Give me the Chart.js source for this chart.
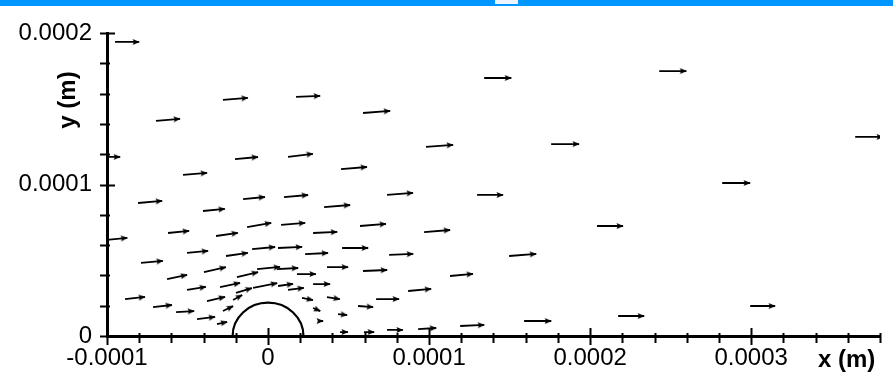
<!DOCTYPE html>
<html>
<head>
<meta charset="utf-8">
<script src="https://cdn.jsdelivr.net/npm/chart.js@4.4.1/dist/chart.umd.min.js"></script>
<style>
  body { margin: 0; background: #fff; }
  #wrap { position: relative; width: 893px; height: 376px; }
  #bar { position: absolute; left: 0; top: 0; width: 893px; height: 6px; background: #0096ff; }
  #tab { position: absolute; left: 495px; top: 0; width: 23px; height: 4px; background: #eef4ff; }
</style>
</head>
<body>
<div id="wrap">
  <canvas id="chart" width="893" height="376"></canvas>
  <div id="bar"></div><div id="tab"></div>
</div>
<script>
// vector anchor points, micrometres
const xPos = [
  -95.0, -69.6, -28.0, 17.4, 59.0, -106.8, -52.8, -20.5, 12.4, 45.3,
  134.2, 242.9, 98.1, 175.8, 364.6, 282.0, 73.9, 129.8, 96.9, 204.3,
  75.2, 149.7, 113.0, 87.0, 67.1, 73.9, 93.2, 119.3, 159.0, 217.4,
  299.4, -80.7, -40.4, -15.5, 9.9, 34.8, -62.1, -32.3, -13.0, 8.1,
  28.0, -101.0, -50.3, -26.1, -9.9, 6.2, 23.0, -78.9, -39.8, -19.3,
  -6.8, 5.6, 18.0, 36.6, -62.7, -29.8, -19.9, -9.3, 6.2, 12.4,
  28.0, -50.3, -88.8, -71.4, -37.9, -28.0, -21.7, -57.1, -44.1, -31.7,
  21.1, 28.0, 36.6, 32.3, 43.5, 44.7, 55.9, 59.6, 57.1, 46.0, 59.0
];
const yPos = [
  194.1, 142.0, 155.8, 157.8, 147.2, 118.2, 106.3, 116.8, 118.2, 110.2,
  170.3, 174.9, 124.8, 126.7, 131.4, 101.0, 93.1, 93.1, 68.6, 72.6,
  53.5, 52.8, 39.6, 29.7, 24.4, 4.0, 4.6, 6.6, 9.9, 13.2,
  19.8, 87.8, 82.5, 90.4, 91.7, 85.1, 68.0, 66.0, 71.9, 73.3,
  68.0, 63.4, 54.8, 52.8, 57.4, 58.1, 54.1, 48.2, 42.2, 38.9,
  44.2, 44.2, 40.9, 45.5, 37.6, 32.3, 28.4, 31.7, 33.0, 30.4,
  34.3, 30.4, 24.4, 19.1, 23.1, 16.5, 23.8, 15.8, 11.2, 7.9,
  25.1, 18.5, 25.7, 9.9, 14.5, 2.6, 19.8, 2.6, 72.6, 58.1, 42.9
];
// velocity components, scaled to the free stream
const uVel = [
  0.88, 0.88, 0.91, 0.88, 0.99, 0.88, 0.88, 0.84, 0.91, 0.95,
  0.99, 0.99, 0.99, 1.02, 1.02, 1.02, 0.95, 0.95, 0.95, 0.95,
  0.88, 0.99, 0.84, 0.84, 0.84, 0.58, 0.66, 0.88, 0.99, 0.95,
  0.91, 0.88, 0.80, 0.80, 0.88, 0.95, 0.77, 0.80, 0.88, 0.88,
  0.88, 0.80, 0.77, 0.80, 0.84, 0.88, 0.84, 0.80, 0.80, 0.77,
  0.84, 0.77, 0.69, 0.77, 0.73, 0.73, 0.58, 0.88, 0.55, 0.58,
  0.62, 0.69, 0.73, 0.69, 0.66, 0.37, 0.33, 0.66, 0.66, 0.37,
  0.40, 0.26, 0.47, 0.11, 0.33, 0.29, 0.55, 0.37, 0.95, 0.95, 0.88
];
const vVel = [
  0, 0.08, 0.08, 0.04, 0.08, 0, 0.08, 0.08, 0.12, 0.08,
  0, 0, 0.08, 0, 0, 0, 0.08, 0, 0.08, 0,
  0.04, 0.08, 0.08, 0.08, 0, 0, 0.04, 0.04, 0, 0,
  0, 0.08, 0.08, 0.08, 0.08, 0.08, 0.08, 0.12, 0.16, 0.08,
  0.04, 0.08, 0.08, 0.12, 0.08, 0.04, 0.04, 0.08, 0.19, 0.19,
  0.08, 0.04, 0, 0, 0.16, 0.16, 0.19, 0.19, 0.08, 0.08,
  0, 0.12, 0.08, 0.08, 0.16, 0.19, 0.19, 0.04, 0.08, 0.08,
  -0.08, -0.12, -0.08, 0, -0.04, 0, -0.04, 0, 0.08, 0, 0.04
];
const cylinderRadius = 22;   // micrometres
const arrowLength = 17;      // micrometres of arrow per unit velocity

const xTickValues = [-0.0001, 0, 0.0001, 0.0002, 0.0003];
const xTickLabels = ['-0.0001', '0', '0.0001', '0.0002', '0.0003'];
const yTickValues = [0, 0.0001, 0.0002];
const yTickLabels = ['0', '0.0001', '0.0002'];

const UM = 1e-6;
const shafts = [];
const heads = [];
for (let i = 0; i < xPos.length; i++) {
  const x0 = xPos[i] * UM, y0 = yPos[i] * UM;
  const x1 = (xPos[i] + uVel[i] * arrowLength) * UM;
  const y1 = (yPos[i] + vVel[i] * arrowLength) * UM;
  shafts.push({x: x0, y: y0}, {x: x1, y: y1}, {x: x1, y: null});
  heads.push({x: x1, y: y1, x0: x0, y0: y0});
}

// filled arrow head, tip sits at the image centre
const headImg = document.createElement('canvas');
headImg.width = 16; headImg.height = 10;
(function () {
  const c = headImg.getContext('2d');
  c.fillStyle = '#000';
  c.beginPath();
  c.moveTo(8.5, 5); c.lineTo(1.5, 2); c.lineTo(2.8, 5); c.lineTo(1.5, 8);
  c.closePath(); c.fill();
})();

const labelFor = (values, labels) => v => {
  const i = values.findIndex(m => Math.abs(m - v) < 1e-9);
  return i < 0 ? '' : labels[i];
};

// Tecplot style tick marks that cross the axis lines
const tickMarks = {
  id: 'tickMarks',
  afterDraw(chart) {
    const {ctx, scales: {x, y}, chartArea} = chart;
    const ax = chartArea.bottom, ay = chartArea.left;
    ctx.save();
    ctx.strokeStyle = '#000';
    ctx.lineWidth = 2;
    x.ticks.forEach(t => {
      const px = Math.round(x.getPixelForValue(t.value)) + 0.5;
      const major = t.label !== '';
      ctx.beginPath();
      ctx.moveTo(px, ax - (major ? 8 : 3));
      ctx.lineTo(px, ax + (major ? 9 : 7));
      ctx.stroke();
    });
    y.ticks.forEach(t => {
      const py = Math.round(y.getPixelForValue(t.value)) + 0.5;
      const major = t.label !== '';
      ctx.beginPath();
      ctx.moveTo(ay - 7, py);
      ctx.lineTo(ay + (major ? 8 : 3), py);
      ctx.stroke();
    });
    ctx.restore();
  }
};

// half cylinder outline sitting on y = 0
const cylinder = {
  id: 'cylinder',
  afterDatasetsDraw(chart) {
    const {ctx, scales: {x, y}} = chart;
    const cx = x.getPixelForValue(0), cy = y.getPixelForValue(0);
    const rx = x.getPixelForValue(cylinderRadius * UM) - cx;
    const ry = cy - y.getPixelForValue(cylinderRadius * UM);
    ctx.save();
    ctx.strokeStyle = '#000';
    ctx.lineWidth = 2.2;
    ctx.beginPath();
    ctx.ellipse(cx, cy, rx, ry, 0, Math.PI, 2 * Math.PI);
    ctx.stroke();
    ctx.restore();
  }
};

const axisTitles = {
  id: 'axisTitles',
  afterDraw(chart) {
    const {ctx} = chart;
    ctx.save();
    ctx.fillStyle = '#000';
    ctx.font = 'bold 24px "Liberation Sans", Arial, sans-serif';
    ctx.textBaseline = 'alphabetic';
    ctx.textAlign = 'left';
    ctx.fillText('x (m)', 818, 367);
    ctx.translate(75, 100);
    ctx.rotate(-Math.PI / 2);
    ctx.textAlign = 'center';
    ctx.fillText('y (m)', 0, 0);
    ctx.restore();
  }
};

Chart.defaults.font.family = '"Liberation Sans", Arial, sans-serif';
Chart.defaults.color = '#000';

new Chart(document.getElementById('chart'), {
  type: 'scatter',
  data: {
    datasets: [{
      data: shafts,
      showLine: true,
      spanGaps: false,
      borderColor: '#000',
      borderWidth: 1.8,
      pointRadius: 0,
      clip: 0
    }, {
      data: heads,
      pointStyle: headImg,
      rotation: ctx => {
        const p = ctx.raw;
        if (!p) return 0;
        const sx = ctx.chart.scales.x, sy = ctx.chart.scales.y;
        const dx = sx.getPixelForValue(p.x) - sx.getPixelForValue(p.x0);
        const dy = sy.getPixelForValue(p.y) - sy.getPixelForValue(p.y0);
        return Math.atan2(dy, dx) * 180 / Math.PI;
      },
      clip: 0
    }]
  },
  options: {
    responsive: false,
    animation: false,
    events: [],
    layout: { padding: { top: 33, right: 13, left: 0, bottom: 0 } },
    plugins: { legend: { display: false }, tooltip: { enabled: false } },
    scales: {
      x: {
        type: 'linear',
        min: -0.0001,
        max: 0.00038,
        grid: { display: false, drawTicks: false },
        border: { display: true, color: '#000', width: 3 },
        ticks: {
          stepSize: 0.00002,
          autoSkip: false,
          maxRotation: 0,
          padding: 8,
          font: { size: 24 },
          callback: labelFor(xTickValues, xTickLabels)
        },
        afterFit: s => { s.height = 40; }
      },
      y: {
        type: 'linear',
        min: 0,
        max: 0.0002,
        grid: { display: false, drawTicks: false },
        border: { display: true, color: '#000', width: 3 },
        ticks: {
          stepSize: 0.00002,
          autoSkip: false,
          padding: 15,
          font: { size: 24 },
          callback: labelFor(yTickValues, yTickLabels)
        },
        afterFit: s => { s.width = 107; }
      }
    }
  },
  plugins: [tickMarks, cylinder, axisTitles]
});
</script>
</body>
</html>
